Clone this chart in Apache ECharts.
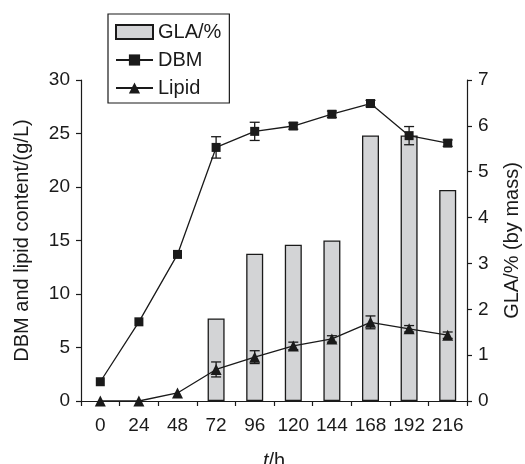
<!DOCTYPE html>
<html>
<head>
<meta charset="utf-8">
<script src="https://cdn.jsdelivr.net/npm/echarts@6/dist/echarts.min.js"></script>
<style>html,body{margin:0;padding:0;background:#fff}#c{width:525px;height:464px}</style>
</head>
<body>
<div id="c"></div>
<script>
const categories = ['0','24','48','72','96','120','144','168','192','216'];
const glaValues = [null, null, null, 1.80, 3.21, 3.41, 3.50, 5.79, 5.79, 4.60];
const dbmValues = [1.8, 7.4, 13.7, 23.7, 25.2, 25.7, 26.8, 27.8, 24.8, 24.1];
const lipidValues = [0, 0, 0.75, 2.95, 4.1, 5.15, 5.8, 7.35, 6.75, 6.15];
const dbmErr = [0, 0, 0, 1.0, 0.85, 0.3, 0.3, 0.3, 0.85, 0.3];
const lipidErr = [0, 0, 0, 0.7, 0.6, 0.35, 0.3, 0.6, 0.3, 0.3];
const leftTicks = { min: 0, max: 30, interval: 5 };
const rightTicks = { min: 0, max: 7, interval: 1 };

const FONT = '"Liberation Sans", Arial, sans-serif';
const INK = '#1a1a1a';

function errData(vals, errs) {
  return vals.map((v, i) => [i, v - errs[i], v + errs[i]]).filter((d, i) => errs[i] > 0);
}
function errRender(params, api) {
  const x = api.value(0);
  const lo = api.coord([x, api.value(1)]);
  const hi = api.coord([x, api.value(2)]);
  const w = 5;
  const st = { stroke: INK, lineWidth: 1.3 };
  return {
    type: 'group',
    children: [
      { type: 'line', shape: { x1: lo[0], y1: lo[1], x2: hi[0], y2: hi[1] }, style: st },
      { type: 'line', shape: { x1: lo[0] - w, y1: lo[1], x2: lo[0] + w, y2: lo[1] }, style: st },
      { type: 'line', shape: { x1: hi[0] - w, y1: hi[1], x2: hi[0] + w, y2: hi[1] }, style: st }
    ]
  };
}

const chart = echarts.init(document.getElementById('c'));
const axisLine = { show: true, lineStyle: { color: INK, width: 1.2 } };
const axisTick = { show: true, inside: false, length: 5, lineStyle: { color: INK, width: 1.2 } };
chart.setOption({
  animation: false,
  textStyle: { fontFamily: FONT },
  grid: { left: 81, right: 58, top: 80, bottom: 63, containLabel: false, outerBoundsMode: 'none' },
  legend: {
    orient: 'vertical',
    left: 108, top: 14,
    padding: [8, 8, 5, 7],
    itemGap: 8,
    itemWidth: 37, itemHeight: 14,
    borderColor: INK, borderWidth: 1.2,
    textStyle: { fontFamily: FONT, fontSize: 20, color: INK },
    data: [{ name: 'GLA/%', icon: 'rect' }, { name: 'DBM' }, { name: 'Lipid' }]
  },
  xAxis: {
    type: 'category',
    data: categories,
    boundaryGap: true,
    axisLine: axisLine,
    axisTick: axisTick,
    axisLabel: { fontFamily: FONT, fontSize: 19, color: INK, margin: 15, interval: 0, hideOverlap: false },
    name: '{i|t}/h',
    nameLocation: 'middle',
    nameGap: 50,
    nameTextStyle: {
      fontFamily: FONT, fontSize: 20, color: INK, verticalAlign: 'top',
      rich: { i: { fontFamily: FONT, fontSize: 20, color: INK, fontStyle: 'italic' } }
    }
  },
  yAxis: [
    {
      type: 'value', position: 'left',
      min: leftTicks.min, max: leftTicks.max, interval: leftTicks.interval,
      axisLine: axisLine, axisTick: axisTick, splitLine: { show: false },
      axisLabel: { fontFamily: FONT, fontSize: 19, color: INK, margin: 11 },
      name: 'DBM and lipid content/(g/L)',
      nameLocation: 'middle', nameGap: 49,
      nameTextStyle: { fontFamily: FONT, fontSize: 20, color: INK }
    },
    {
      type: 'value', position: 'right',
      min: rightTicks.min, max: rightTicks.max, interval: rightTicks.interval,
      axisLine: axisLine, axisTick: axisTick, splitLine: { show: false },
      axisLabel: { fontFamily: FONT, fontSize: 19, color: INK, margin: 11 },
      name: 'GLA/% (by mass)',
      nameLocation: 'middle', nameGap: 35,
      nameTextStyle: { fontFamily: FONT, fontSize: 20, color: INK }
    }
  ],
  series: [
    {
      name: 'GLA/%', type: 'bar', yAxisIndex: 1,
      data: glaValues, barWidth: 17,
      itemStyle: { color: '#d3d4d6', borderColor: INK, borderWidth: 1.3 },
      z: 1
    },
    {
      name: 'DBM err', type: 'custom', yAxisIndex: 0,
      data: errData(dbmValues, dbmErr), renderItem: errRender, z: 2, silent: true
    },
    {
      name: 'Lipid err', type: 'custom', yAxisIndex: 0,
      data: errData(lipidValues, lipidErr), renderItem: errRender, z: 2, silent: true
    },
    {
      name: 'DBM', type: 'line', yAxisIndex: 0, data: dbmValues,
      symbol: 'rect', symbolSize: 9,
      lineStyle: { color: INK, width: 1.3 },
      itemStyle: { color: INK },
      z: 3
    },
    {
      name: 'Lipid', type: 'line', yAxisIndex: 0, data: lipidValues,
      symbol: 'triangle', symbolSize: 11,
      lineStyle: { color: INK, width: 1.3 },
      itemStyle: { color: INK },
      z: 3
    }
  ]
});
</script>
</body>
</html>
